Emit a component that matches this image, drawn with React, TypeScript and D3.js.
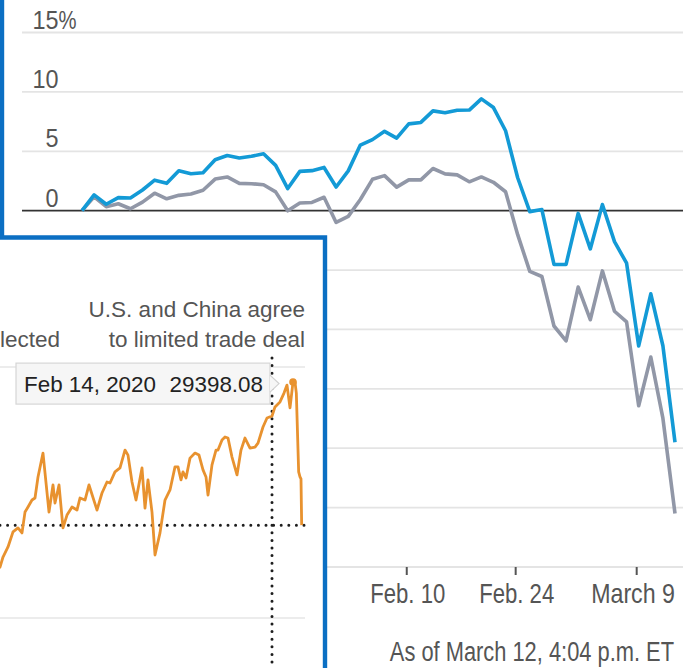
import React from "react";
import * as d3 from "d3";

// ---------- main chart data (year-to-date % change) ----------
const tradingDays = [
  "2019-12-31", "2020-01-02", "2020-01-03", "2020-01-06", "2020-01-07", "2020-01-08", "2020-01-09", "2020-01-10",
  "2020-01-13", "2020-01-14", "2020-01-15", "2020-01-16", "2020-01-17", "2020-01-21", "2020-01-22", "2020-01-23",
  "2020-01-24", "2020-01-27", "2020-01-28", "2020-01-29", "2020-01-30", "2020-01-31", "2020-02-03", "2020-02-04",
  "2020-02-05", "2020-02-06", "2020-02-07", "2020-02-10", "2020-02-11", "2020-02-12", "2020-02-13", "2020-02-14",
  "2020-02-18", "2020-02-19", "2020-02-20", "2020-02-21", "2020-02-24", "2020-02-25", "2020-02-26", "2020-02-27",
  "2020-02-28", "2020-03-02", "2020-03-03", "2020-03-04", "2020-03-05", "2020-03-06", "2020-03-09", "2020-03-10",
  "2020-03-11", "2020-03-12",
];
const nasdaqPct = [
  0, 1.33, 0.54, 1.1, 1.07, 1.74, 2.57, 2.3, 3.36, 3.11, 3.19, 4.29, 4.64, 4.44, 4.58, 4.79, 3.81, 1.86, 3.31,
  3.37, 3.64, 1.99, 3.35, 5.52, 5.98, 6.68, 6.11, 7.31, 7.43, 8.4, 8.24, 8.45, 8.47, 9.41, 8.68, 6.73, 2.77,
  -0.08, 0.09, -4.53, -4.52, -0.23, -3.22, 0.51, -2.61, -4.42, -11.39, -7.0, -11.37, -19.5,
];
const dowPct = [
  0, 1.16, 0.34, 0.58, 0.16, 0.72, 1.47, 1.0, 1.29, 1.41, 1.72, 2.66, 2.84, 2.3, 2.27, 2.18, 1.58, -0.01, 0.65,
  0.69, 1.13, -0.99, -0.48, 0.94, 2.64, 2.95, 1.98, 2.59, 2.59, 3.55, 3.1, 3.01, 2.43, 2.84, 2.39, 1.59, -2.02,
  -5.11, -5.54, -9.71, -10.96, -6.43, -9.18, -5.07, -8.47, -9.37, -16.42, -12.33, -17.47, -25.5,
];
const yGridValues = [15, 10, 5, -5, -10, -15, -20, -25, -30];
const yLabelValues = [15, 10, 5, 0];
const xTickDates = ["2020-02-10", "2020-02-24", "2020-03-09"];
const xTickLabels = ["Feb. 10", "Feb. 24", "March 9"];
const footnote = "As of March 12, 4:04 p.m. ET";

// ---------- inset (Dow Jones level) ----------
const dowDates = [
  "2017-09-03", "2017-09-18", "2017-09-27", "2017-10-12", "2017-10-27", "2017-11-11", "2017-11-23", "2017-12-02",
  "2017-12-11", "2017-12-23", "2018-01-01", "2018-01-10", "2018-01-25", "2018-02-12", "2018-02-24", "2018-03-02",
  "2018-03-14", "2018-03-26", "2018-04-07", "2018-04-22", "2018-05-07", "2018-05-16", "2018-05-31", "2018-06-12",
  "2018-07-06", "2018-07-21", "2018-08-05", "2018-08-14", "2018-08-29", "2018-09-13", "2018-09-28", "2018-10-07",
  "2018-10-19", "2018-10-31", "2018-11-18", "2018-11-27", "2018-12-06", "2018-12-18", "2018-12-27", "2019-01-11",
  "2019-01-26", "2019-02-10", "2019-02-25", "2019-03-06", "2019-03-15", "2019-03-21", "2019-03-30", "2019-04-11",
  "2019-04-26", "2019-05-08", "2019-05-20", "2019-05-29", "2019-06-04", "2019-06-16", "2019-06-28", "2019-07-04",
  "2019-07-16", "2019-07-25", "2019-08-03", "2019-08-15", "2019-08-30", "2019-09-11", "2019-09-23", "2019-10-08",
  "2019-10-23", "2019-11-01", "2019-11-16", "2019-11-28", "2019-12-13", "2019-12-22", "2020-01-06", "2020-01-18",
  "2020-01-27", "2020-02-05", "2020-02-14", "2020-02-20", "2020-02-24", "2020-03-02", "2020-03-06", "2020-03-09",
  "2020-03-11",
];
const dowValues = [
  21830, 22030, 22430, 22830, 23430, 23590, 23390, 24220, 24420, 24700,
  24780, 25620, 26570, 24220, 25300, 24580, 25300, 23590, 24100, 24420,
  24300, 24780, 24700, 25300, 24300, 24980, 25420, 25380, 25820, 25980,
  26690, 26490, 25420, 24700, 25980, 24380, 25500, 24220, 22510, 23390,
  24700, 25100, 26020, 26020, 25500, 25820, 25580, 26370, 26570, 26490,
  25900, 25620, 24900, 26100, 26690, 26690, 27090, 27210, 27170, 26410,
  25700, 26690, 27170, 26770, 26810, 26970, 27610, 27970, 28050, 28410,
  28610, 28960, 29280, 28370, 29398.08, 29400, 28960, 25820, 25620, 25540, 23700,
];
const insetGridValues = [20000, 30000];
const tradeDealDate = "2019-12-13";
const tradeDealLines = ["U.S. and China agree", "to limited trade deal"];
const electionLabel = "lected";
const hoverDate = "2020-02-14";
const hoverValue = 29398.08;

const parse = d3.timeParse("%Y-%m-%d");

const sans = "'Liberation Sans', Arial, Helvetica, sans-serif";

function NarrowText(props: {
  x: number;
  y: number;
  anchor?: "start" | "middle" | "end";
  sx: number;
  size: number;
  fill: string;
  children: React.ReactNode;
}) {
  const { x, y, anchor = "start", sx, size, fill, children } = props;
  return (
    <text
      transform={`translate(${x},${y}) scale(${sx},1)`}
      textAnchor={anchor}
      fontFamily={sans}
      fontSize={size}
      fill={fill}
    >
      {children}
    </text>
  );
}

export default function App() {
  const W = 683;
  const H = 668;

  // main chart scales
  const xMain = d3.scalePoint<string>().domain(tradingDays).range([82, 675]);
  const yMain = d3.scaleLinear().domain([-30, 15]).range([567, 32.5]);
  const gridLeft = 22;
  const lineMain = d3
    .line<number>()
    .x((_, i) => xMain(tradingDays[i]) as number)
    .y((d) => yMain(d))
    .curve(d3.curveLinear);

  // inset scales
  const xInset = d3
    .scaleTime()
    .domain([parse("2017-09-18") as Date, parse("2019-12-13") as Date])
    .range([0, 272]);
  const yInset = d3.scaleLinear().domain([20000, 30000]).range([618, 367]);
  const insetRight = 305;
  const dowPts = dowDates.map((d, i) => [xInset(parse(d) as Date), yInset(dowValues[i])] as [number, number]);
  const lineInset = d3.line();
  const lastY = yInset(dowValues[dowValues.length - 1]);
  const tdX = xInset(parse(tradeDealDate) as Date);
  const hx = xInset(parse(hoverDate) as Date);
  const hy = yInset(hoverValue);
  const fmtDate = d3.timeFormat("%b %-d, %Y");
  const fmtVal = d3.format(".2f");

  const axisColor = "#555";
  const frameBlue = "#0b6fc3";

  const tipRight = hx - 23;
  const tipLeft = 16;
  const tipTop = hy - 19;
  const tipH = 41;

  return (
    <svg
      width={W}
      height={H}
      viewBox={`0 0 ${W} ${H}`}
      style={{ position: "absolute", left: 0, top: 0, display: "block", background: "#fff" }}
    >
      <defs>
        <clipPath id="insetClip">
          <rect x={0} y={239.5} width={323} height={H - 239.5} />
        </clipPath>
      </defs>
      <rect x={0} y={0} width={W} height={H} fill="#fff" />

      {/* main chart gridlines */}
      {yGridValues.map((v) => (
        <line key={v} x1={gridLeft} x2={W} y1={yMain(v)} y2={yMain(v)} stroke="#e4e4e4" strokeWidth={1.8} />
      ))}
      <line x1={gridLeft} x2={W} y1={yMain(0)} y2={yMain(0)} stroke="#333" strokeWidth={1.8} />

      {/* y labels */}
      {yLabelValues.map((v, i) => (
        <g key={v}>
          <NarrowText x={58.5} y={yMain(v) - 4} anchor="end" sx={0.9} size={26} fill={axisColor}>
            {String(v)}
          </NarrowText>
          {i === 0 && (
            <NarrowText x={58.5} y={yMain(v) - 4} anchor="start" sx={0.78} size={26} fill={axisColor}>
              %
            </NarrowText>
          )}
        </g>
      ))}

      {/* x ticks and labels */}
      {xTickDates.map((d, i) => {
        const x = (xMain(d) as number) - 2;
        const last = i === xTickDates.length - 1;
        return (
          <g key={d}>
            <line x1={x} x2={x} y1={567} y2={575} stroke="#555" strokeWidth={2} />
            <NarrowText
              x={last ? xMain.range()[1] : x + 1}
              y={603}
              anchor={last ? "end" : "middle"}
              sx={last ? 0.86 : 0.82}
              size={27}
              fill={axisColor}
            >
              {xTickLabels[i]}
            </NarrowText>
          </g>
        );
      })}
      <NarrowText x={674} y={661} anchor="end" sx={0.81} size={27} fill={axisColor}>
        {footnote}
      </NarrowText>

      {/* series */}
      <path d={lineMain(dowPct) || ""} fill="none" stroke="#9197a7" strokeWidth={3.6} strokeLinejoin="round" />
      <path d={lineMain(nasdaqPct) || ""} fill="none" stroke="#139ad6" strokeWidth={3.6} strokeLinejoin="round" />

      {/* inset */}
      <rect x={0} y={237.5} width={325} height={H - 237.5} fill="#fff" />
      <g clipPath="url(#insetClip)">
        {insetGridValues.map((v) => (
          <line key={v} x1={0} x2={insetRight} y1={yInset(v)} y2={yInset(v)} stroke="#e6e6e6" strokeWidth={1.6} />
        ))}
        <text x={0} y={347} fontFamily={sans} fontSize={22.5} fill="#555">
          {electionLabel}
        </text>
        {tradeDealLines.map((t, i) => (
          <text key={t} x={insetRight} y={317 + i * 30} textAnchor="end" fontFamily={sans} fontSize={22.5} fill="#555">
            {t}
          </text>
        ))}
        <line
          x1={0}
          x2={insetRight}
          y1={lastY}
          y2={lastY}
          stroke="#1e1e1e"
          strokeWidth={3}
          strokeDasharray="0 7.6"
          strokeLinecap="round"
        />
        <line
          x1={tdX}
          x2={tdX}
          y1={358}
          y2={H}
          stroke="#1e1e1e"
          strokeWidth={3}
          strokeDasharray="0 7.6"
          strokeLinecap="round"
        />
        <path d={lineInset(dowPts) || ""} fill="none" stroke="#e8922f" strokeWidth={2.8} strokeLinejoin="round" />
        <circle cx={hx} cy={hy} r={3.8} fill="#e8922f" />
        {/* tooltip */}
        <rect x={tipLeft} y={tipTop} width={tipRight - tipLeft} height={tipH} fill="#f6f6f6" stroke="#d6d6d6" strokeWidth={1.2} />
        <path
          d={`M${tipRight},${tipTop + 12} L${tipRight + 9},${tipTop + tipH / 2} L${tipRight},${tipTop + tipH - 12}`}
          fill="#f6f6f6"
          stroke="#d0d0d0"
          strokeWidth={1.2}
        />
        <text x={tipLeft + 8} y={tipTop + 28.5} fontFamily={sans} fontSize={22.4} fill="#222">
          {fmtDate(parse(hoverDate) as Date)}
        </text>
        <text x={tipRight - 7} y={tipTop + 28.5} textAnchor="end" fontFamily={sans} fontSize={22.4} fill="#222">
          {fmtVal(hoverValue)}
        </text>
      </g>

      {/* blue frames */}
      <path d={`M2,0 V237.5 H325 V${H}`} fill="none" stroke={frameBlue} strokeWidth={4.4} />
    </svg>
  );
}
